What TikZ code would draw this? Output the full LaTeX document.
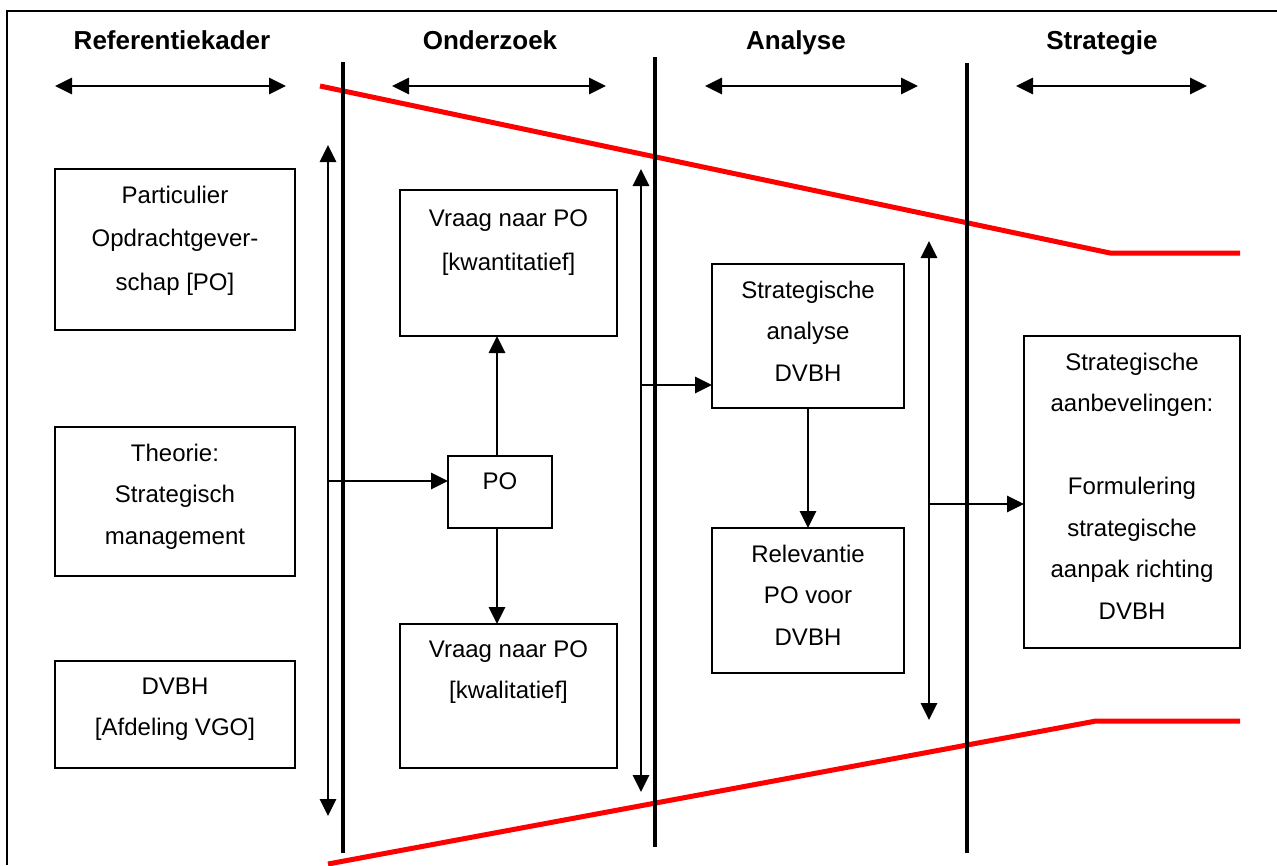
\documentclass[tikz,border=0pt]{standalone}
\usepackage{fontspec}
\setmainfont{Liberation Sans}
\usetikzlibrary{arrows.meta}

\begin{document}
\begin{tikzpicture}[x=1pt,y=-1pt,
  box/.style={draw, line width=1.8pt, anchor=north west, inner sep=0pt, outer sep=0pt},
  txt/.style={anchor=north, align=center, inner sep=0pt, font=\fontsize{24}{41.5}\selectfont},
  widetxt/.style={txt, font=\fontsize{24}{43.8}\selectfont},
  head/.style={anchor=base, inner sep=0pt, font=\fontsize{26}{30}\selectfont\bfseries},
  conn/.style={line width=2.8pt, -{Triangle[length=17pt,width=16pt]}},
  span/.style={line width=2.8pt, {Triangle[length=17pt,width=16pt]}-{Triangle[length=17pt,width=16pt]}},
  divider/.style={line width=4pt},
  funnel/.style={draw=red, line width=5pt}
]
\useasboundingbox (0,0) rectangle (1277,865);

% outer frame
\draw[line width=2pt] (7,865) -- (7,11) -- (1277,11);

% column headings
\node[head] (h1) at (172,49) {Referentiekader};
\node[head] (h2) at (490,49) {Onderzoek};
\node[head] (h3) at (796,49) {Analyse};
\node[head] (h4) at (1102,49) {Strategie};

% column width arrows
\coordinate (a1l) at (55,86);   \coordinate (a1r) at (286,86);
\coordinate (a2l) at (392,86);  \coordinate (a2r) at (606,86);
\coordinate (a3l) at (705,86);  \coordinate (a3r) at (918,86);
\coordinate (a4l) at (1016,86); \coordinate (a4r) at (1207,86);
\draw[span] (a1l) -- (a1r);
\draw[span] (a2l) -- (a2r);
\draw[span] (a3l) -- (a3r);
\draw[span] (a4l) -- (a4r);

% narrowing funnel
\draw[funnel] (320,86) -- (1110,253) -- (1240,253);
\draw[funnel] (328,864) -- (1096,721) -- (1240,721);

% phase dividers
\draw[divider] (343,62) -- (343,853);
\draw[divider] (655,57) -- (655,847);
\draw[divider] (967,63) -- (967,853);

% Referentiekader
\node[box, minimum width=240pt, minimum height=161pt] (po1) at (55,169) {};
\node[widetxt] (po1t) at ([yshift=-16.5pt]po1.north) {Particulier\\Opdrachtgever-\\schap {[}PO{]}};
\node[box, minimum width=240pt, minimum height=149pt] (theo) at (55,427) {};
\node[txt] (theot) at ([yshift=-16.5pt]theo.north) {Theorie:\\Strategisch\\management};
\node[box, minimum width=240pt, minimum height=107pt] (dvbh) at (55,661) {};
\node[txt] (dvbht) at ([yshift=-16.5pt]dvbh.north) {DVBH\\{[}Afdeling VGO{]}};

% Onderzoek
\node[box, minimum width=217pt, minimum height=146pt] (kwant) at (400,190) {};
\node[widetxt] (kwantt) at ([yshift=-19.5pt]kwant.north) {Vraag naar PO\\{[}kwantitatief{]}};
\node[box, minimum width=104pt, minimum height=72pt] (po) at (448,456) {};
\node[txt] (pot) at ([yshift=-16.5pt]po.north) {PO};
\node[box, minimum width=217pt, minimum height=144pt] (kwal) at (400,624) {};
\node[txt] (kwalt) at ([yshift=-16.5pt]kwal.north) {Vraag naar PO\\{[}kwalitatief{]}};

% Analyse
\node[box, minimum width=192pt, minimum height=144pt] (sa) at (712,264) {};
\node[txt] (sat) at ([yshift=-16.5pt]sa.north) {Strategische\\analyse\\DVBH};
\node[box, minimum width=192pt, minimum height=145pt] (rel) at (712,528) {};
\node[txt] (relt) at ([yshift=-16.5pt]rel.north) {Relevantie\\PO voor\\DVBH};

% Strategie
\node[box, minimum width=216pt, minimum height=312pt] (rec) at (1024,336) {};
\node[txt] (rect) at ([yshift=-16.5pt]rec.north) {Strategische\\aanbevelingen:\\[41.5pt]Formulering\\strategische\\aanpak richting\\DVBH};

% collecting buses between phases
\coordinate (b1t) at (328,145); \coordinate (b1b) at (328,816); \coordinate (b1m) at (328,481);
\coordinate (b2t) at (641,169); \coordinate (b2b) at (641,792); \coordinate (b2m) at (641,385);
\coordinate (b3t) at (929,241); \coordinate (b3b) at (929,720); \coordinate (b3m) at (929,504);
\draw[span] (b1t) -- (b1b);
\draw[span] (b2t) -- (b2b);
\draw[span] (b3t) -- (b3b);

% flow arrows
\draw[conn] (b1m) -- (b1m -| po.west);
\draw[conn] ([xshift=-3pt]po.north) -- ([xshift=-3pt]po.north |- kwant.south);
\draw[conn] ([xshift=-3pt]po.south) -- ([xshift=-3pt]po.south |- kwal.north);
\draw[conn] (b2m) -- (b2m -| sa.west);
\draw[conn] (sa.south) -- (rel.north);
\draw[conn] (b3m) -- (b3m -| rec.west);
\end{tikzpicture}
\end{document}
